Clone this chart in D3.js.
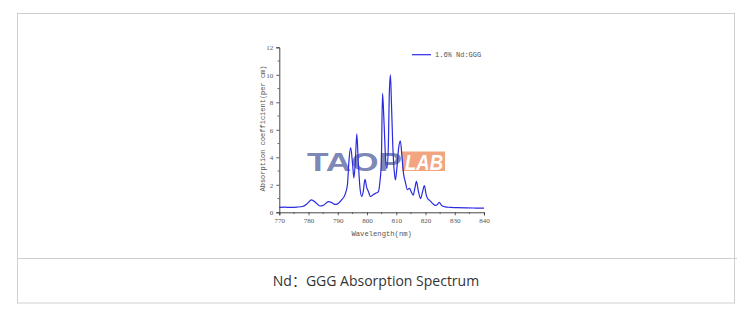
<!DOCTYPE html>
<html><head><meta charset="utf-8">
<script src="https://cdn.jsdelivr.net/npm/d3@7"></script>
<style>
html,body{margin:0;padding:0;background:#fff;}
svg{display:block;}
</style></head>
<body>
<script>
// Data (wavelength in nm, absorption coefficient per cm)
const wavelength = [770,772,774,776,778,779.5,781,782.5,783.9,785,786.8,788,789,789.8,791.3,792.5,793.3,793.8,794.4,795.1,795.5,796,796.5,797,797.6,798.2,798.7,799.3,799.9,800.4,801.2,802.2,803.1,803.9,804.4,804.9,805.3,805.8,806.4,806.8,807.3,807.6,808,808.3,808.8,809.3,809.7,810.2,810.8,811.4,812,812.5,813.1,813.8,814.5,815.1,815.8,816.4,816.9,817.5,818.3,819,819.6,820.2,820.7,821.5,822.4,823.4,824,824.7,825.5,826.7,828.4,830.6,834,837,840];
const absorption = [0.36,0.37,0.36,0.38,0.42,0.62,0.9,0.7,0.46,0.5,0.78,0.7,0.58,0.6,0.9,1.3,2.0,3.7,4.7,3.4,2.5,3.7,5.7,3.7,1.75,1.15,1.5,2.4,1.8,1.55,1.15,1.3,1.4,1.5,2.2,3.7,8.65,6.6,3.7,3.2,4.9,8.5,10.0,8.3,4.9,3.0,2.35,3.2,4.65,5.2,3.9,2.8,2.2,1.65,1.75,1.5,1.25,1.8,2.25,1.6,1.0,1.5,1.95,1.3,1.0,0.85,0.65,0.5,0.55,0.72,0.5,0.4,0.36,0.34,0.32,0.31,0.3];
const xTicks = [770,780,790,800,810,820,830,840];
const yTicks = [0,2,4,6,8,10,12];
const seriesName = "1.6% Nd:GGG";
const xTitle = "Wavelength(nm)";
const yTitle = "Absorption coefficient(per cm)";
const caption = "Nd：GGG Absorption Spectrum";

const W = 752, H = 323;
const svg = d3.select("body").append("svg").attr("width", W).attr("height", H);

// outer frame
svg.append("rect").attr("x",17.5).attr("y",13.5).attr("width",717).attr("height",289.5)
  .attr("fill","none").attr("stroke","#cfcfcf").attr("stroke-width",1);
svg.append("line").attr("x1",17).attr("x2",737).attr("y1",258.5).attr("y2",258.5)
  .attr("stroke","#cfcfcf").attr("stroke-width",1);

svg.append("text").attr("x",376).attr("y",285.5).attr("text-anchor","middle")
  .attr("font-family","'Open Sans','Noto Sans CJK SC',sans-serif").attr("font-size",14)
  .attr("fill","#333").text(caption);

const x = d3.scaleLinear().domain([770,840]).range([279.3,484]);
const y = d3.scaleLinear().domain([0,12]).range([212.3,47.3]);

// watermark
const wm = svg.append("g");
wm.append("text").attr("x",307).attr("y",170.5)
  .attr("font-family","'Liberation Sans',Arial,sans-serif").attr("font-weight","bold")
  .attr("font-size",26).attr("fill","#7e88b6")
  .attr("textLength",95).attr("lengthAdjust","spacingAndGlyphs").text("TAOP");
wm.append("rect").attr("x",402).attr("y",151.5).attr("width",43).attr("height",19.5).attr("fill","#f3a57f");
wm.append("text").attr("x",405).attr("y",169.5)
  .attr("font-family","'Liberation Sans',Arial,sans-serif").attr("font-weight","bold").attr("font-style","italic")
  .attr("font-size",22).attr("fill","#fff")
  .attr("textLength",38).attr("lengthAdjust","spacingAndGlyphs").text("LAB");

// axes
const fontTick = "'Liberation Serif','DejaVu Serif',serif";
const xAxis = d3.axisBottom(x).tickValues(xTicks).tickSize(3).tickPadding(3).tickFormat(d3.format("d"));
const gx = svg.append("g").attr("transform",`translate(0,${y(0)})`).call(xAxis);
const yAxis = d3.axisLeft(y).tickValues(yTicks).tickSize(3).tickPadding(3).tickFormat(d3.format("d"));
const gy = svg.append("g").attr("transform",`translate(${x(770)},0)`).call(yAxis);
[gx,gy].forEach(g=>{
  g.select(".domain").attr("stroke","#333").attr("stroke-width",0.9);
  g.selectAll(".tick line").attr("stroke","#333").attr("stroke-width",0.8);
  g.selectAll(".tick text").attr("font-family",fontTick).attr("font-size",7).attr("fill","#555");
});
// minor ticks
const xMinor = d3.range(775,840,10);
gx.selectAll(".minor").data(xMinor).enter().append("line")
  .attr("x1",d=>x(d)).attr("x2",d=>x(d)).attr("y1",0).attr("y2",1.8).attr("stroke","#333").attr("stroke-width",0.7);
const yMinor = d3.range(1,12,2);
gy.selectAll(".minor").data(yMinor).enter().append("line")
  .attr("y1",d=>y(d)).attr("y2",d=>y(d)).attr("x1",0).attr("x2",-1.8).attr("stroke","#333").attr("stroke-width",0.7);

svg.append("text").attr("x",(x(770)+x(840))/2).attr("y",235.5).attr("text-anchor","middle")
  .attr("font-family","'Liberation Mono','DejaVu Sans Mono',monospace").attr("font-size",7.2)
  .attr("fill","#555").text(xTitle);
svg.append("text").attr("transform",`translate(265,128.5) rotate(-90)`).attr("text-anchor","middle")
  .attr("font-family","'Liberation Mono','DejaVu Sans Mono',monospace").attr("font-size",7)
  .attr("fill","#555").text(yTitle);

// line
const data = wavelength.map((w,i)=>({w, v:absorption[i]}));
const line = d3.line().x(d=>x(d.w)).y(d=>y(d.v)).curve(d3.curveMonotoneX);
svg.append("path").datum(data).attr("d",line).attr("fill","none")
  .attr("stroke","#2a2ae0").attr("stroke-width",1.2);

// legend
svg.append("line").attr("x1",412).attr("x2",431).attr("y1",54.7).attr("y2",54.7)
  .attr("stroke","#2a2ae0").attr("stroke-width",1.2);
svg.append("text").attr("x",435).attr("y",57.2)
  .attr("font-family","'Liberation Mono','DejaVu Sans Mono',monospace").attr("font-size",7)
  .attr("fill","#555").text(seriesName);
</script>
</body></html>
